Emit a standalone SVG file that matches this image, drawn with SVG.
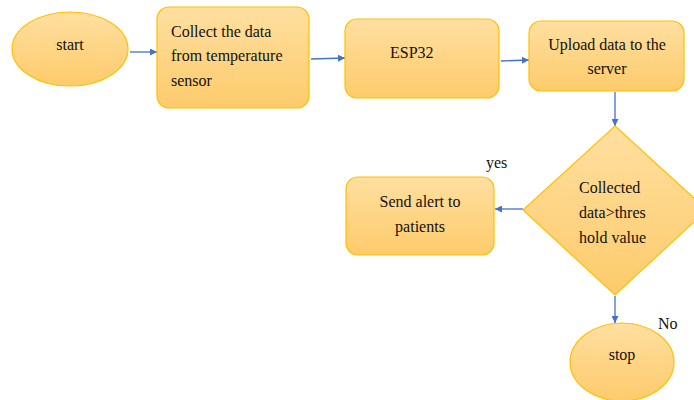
<svg xmlns="http://www.w3.org/2000/svg" width="694" height="400" viewBox="0 0 694 400">
  <style>
    .shape { fill: url(#fillGrad); stroke: #FFC000; stroke-width: 1.2; }
    .label { font-family: "Liberation Serif", "Times New Roman", serif; font-size: 16px; fill: #111; }
    .mid { text-anchor: middle; }
    .conn { stroke: #4472C4; stroke-width: 1.3; fill: none; marker-end: url(#arrow); }
  </style>
  <defs>
    <linearGradient id="fillGrad" x1="0" y1="0" x2="0" y2="1">
      <stop offset="0" stop-color="#FFDFA0"/>
      <stop offset="1" stop-color="#FDCB6B"/>
    </linearGradient>
    <marker id="arrow" viewBox="0 0 10 10" refX="10" refY="5" markerWidth="7" markerHeight="7" orient="auto" markerUnits="userSpaceOnUse">
      <path d="M0,0 L10,5 L0,10 z" fill="#4472C4"/>
    </marker>
  </defs>

  <rect width="694" height="400" fill="#ffffff"/>

  <g id="connectors">
    <line class="conn" x1="130" y1="52" x2="157" y2="52"/>
    <line class="conn" x1="311" y1="59" x2="345" y2="58"/>
    <line class="conn" x1="501" y1="61" x2="529" y2="60"/>
    <line class="conn" x1="615" y1="92" x2="615" y2="126"/>
    <line class="conn" x1="523" y1="209" x2="495" y2="209"/>
    <line class="conn" x1="615" y1="296" x2="615" y2="323"/>
  </g>

  <g id="start">
    <ellipse class="shape" cx="70" cy="49" rx="58" ry="37"/>
    <text class="label mid" x="70" y="50">start</text>
  </g>

  <g id="collect">
    <rect class="shape" x="157" y="7" width="152" height="101" rx="12"/>
    <text class="label" x="171" y="37">Collect the data</text>
    <text class="label" x="171" y="61">from temperature</text>
    <text class="label" x="171" y="86">sensor</text>
  </g>

  <g id="esp32">
    <rect class="shape" x="345" y="19" width="154" height="79" rx="12"/>
    <text class="label" x="390" y="58">ESP32</text>
  </g>

  <g id="upload">
    <rect class="shape" x="529" y="21" width="155" height="70" rx="12"/>
    <text class="label mid" x="607" y="50">Upload data to the</text>
    <text class="label mid" x="607" y="74">server</text>
  </g>

  <g id="decision">
    <polygon class="shape" points="615,126 707,210 615,295 523,210"/>
    <text class="label" x="579" y="193">Collected</text>
    <text class="label" x="579" y="218">data&gt;thres</text>
    <text class="label" x="579" y="243">hold value</text>
  </g>

  <g id="alert">
    <rect class="shape" x="346" y="177" width="148" height="78" rx="12"/>
    <text class="label mid" x="420" y="207">Send alert to</text>
    <text class="label mid" x="420" y="232">patients</text>
  </g>

  <g id="stop">
    <ellipse class="shape" cx="622" cy="362" rx="52" ry="39"/>
    <text class="label mid" x="622" y="360">stop</text>
  </g>

  <text class="label" x="486" y="168">yes</text>
  <text class="label" x="658" y="329">No</text>
</svg>
